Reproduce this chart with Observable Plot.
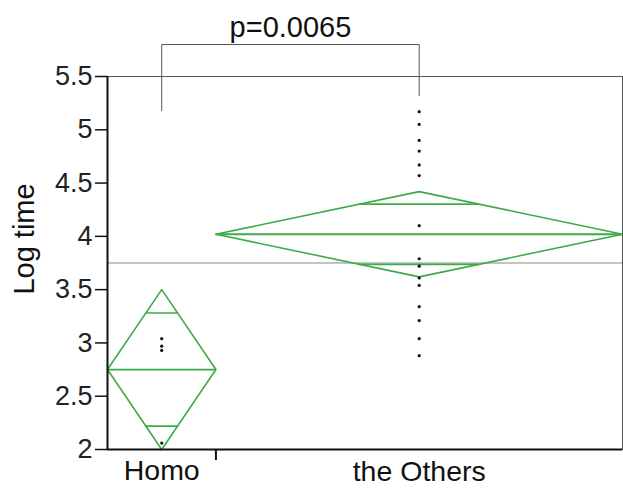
<!DOCTYPE html>
<html>
<head>
<meta charset="utf-8">
<script src="https://cdn.jsdelivr.net/npm/d3@7"></script>
<script src="https://cdn.jsdelivr.net/npm/@observablehq/plot@0.6"></script>
<style>
  html, body { margin: 0; padding: 0; background: #fff; }
  #chart svg { display: block; }
</style>
</head>
<body>
<div id="chart"></div>
<script>
// ---- data ----
const groups = ["Homo", "the Others"];
const homoValues = [3.04, 2.97, 2.93, 2.06];
const othersValues = [5.17, 5.05, 4.90, 4.80, 4.67, 4.57, 4.10, 3.79, 3.72, 3.61, 3.54, 3.34, 3.21, 3.04, 2.88];
const groupMeans = [2.75, 4.02];
const ciHalfWidths = [0.75, 0.40];
const grandMean = 3.75;
const yTicks = [2, 2.5, 3, 3.5, 4, 4.5, 5, 5.5];
const yTickLabels = ["2", "2.5", "3", "3.5", "4", "4.5", "5", "5.5"];
const yLabel = "Log time";
const pLabel = "p=0.0065";
const bracketLegBottoms = [5.18, 5.32];
const bracketTop = 5.80;

// ---- derived layout (group widths proportional to group size) ----
const groupValues = [homoValues, othersValues];
const sizes = groupValues.map(v => v.length);
const starts = sizes.map((_, i) => d3.sum(sizes.slice(0, i)));
const total = d3.sum(sizes);
const centers = sizes.map((n, i) => starts[i] + n / 2);

const points = groupValues.flatMap((vals, i) => vals.map(v => ({x: centers[i], y: v})));

const diamonds = groups.flatMap((g, i) => {
  const x0 = starts[i], x1 = starts[i] + sizes[i], xc = centers[i];
  const m = groupMeans[i], h = ciHalfWidths[i];
  return [
    {g, x: x0, y: m}, {g, x: xc, y: m + h}, {g, x: x1, y: m}, {g, x: xc, y: m - h}, {g, x: x0, y: m}
  ];
});
const meanLines = groups.map((g, i) => ({x1: starts[i], x2: starts[i] + sizes[i], y: groupMeans[i]}));
const overlapLines = groups.flatMap((g, i) => {
  const h = ciHalfWidths[i], o = h / Math.SQRT2, w = sizes[i] / 2 * (1 - o / h);
  return [
    {x1: centers[i] - w, x2: centers[i] + w, y: groupMeans[i] + o},
    {x1: centers[i] - w, x2: centers[i] + w, y: groupMeans[i] - o}
  ];
});
const bracket = [
  {x: centers[0], y: bracketLegBottoms[0]},
  {x: centers[0], y: bracketTop},
  {x: centers[1], y: bracketTop},
  {x: centers[1], y: bracketLegBottoms[1]}
];

const green = "#3dab48";
const font = "'Liberation Sans', Arial, Helvetica, sans-serif";

const chart = Plot.plot({
  width: 623,
  height: 488,
  marginLeft: 107,
  marginRight: 1,
  marginTop: 76,
  marginBottom: 39,
  style: {fontFamily: font, background: "#fff"},
  x: {domain: [0, total], axis: null},
  y: {domain: [2, 5.5], axis: null},
  marks: [
    Plot.frame({stroke: "#555", strokeWidth: 1}),
    Plot.ruleY([grandMean], {stroke: "#8a8a8a", strokeWidth: 1.2}),
    Plot.line(diamonds, {x: "x", y: "y", z: "g", stroke: green, strokeWidth: 1.6}),
    Plot.ruleY(meanLines, {x1: "x1", x2: "x2", y: "y", stroke: green, strokeWidth: 1.8}),
    Plot.ruleY(overlapLines, {x1: "x1", x2: "x2", y: "y", stroke: green, strokeWidth: 1.6}),
    Plot.dot(points, {x: "x", y: "y", r: 1.6, fill: "#111", stroke: null}),
    // axes
    Plot.axisY({
      ticks: yTicks,
      tickFormat: (d) => yTickLabels[yTicks.indexOf(d)],
      tickSize: 12,
      tickPadding: 3,
      fontSize: 27,
      stroke: "#111",
      strokeWidth: 1.5,
      fill: "#222",
      label: null
    }),
    Plot.axisX({
      ticks: [starts[1]],
      tickFormat: () => "",
      tickSize: 11,
      stroke: "#111",
      strokeWidth: 2,
      label: null
    }),
    Plot.ruleX([0], {stroke: "#111", strokeWidth: 2}),
    Plot.ruleY([2], {stroke: "#111", strokeWidth: 2}),
    Plot.text([groups[0]], {x: centers[0], frameAnchor: "bottom", textAnchor: "middle", lineAnchor: "middle", dy: 21, fontSize: 28.5, fill: "#111"}),
    Plot.text([groups[1]], {x: centers[1], frameAnchor: "bottom", textAnchor: "middle", lineAnchor: "middle", dy: 22, fontSize: 28.5, fill: "#111"}),
    Plot.text([yLabel], {frameAnchor: "left", textAnchor: "middle", lineAnchor: "middle", rotate: -90, dx: -83, dy: -24, fontSize: 29, fill: "#111"}),
    // significance bracket
    Plot.line(bracket, {x: "x", y: "y", stroke: "#555", strokeWidth: 1}),
    Plot.text([pLabel], {x: (centers[0] + centers[1]) / 2, y: bracketTop, dy: -17, fontSize: 29, fill: "#111"})
  ]
});
document.getElementById("chart").appendChild(chart);
</script>
</body>
</html>
